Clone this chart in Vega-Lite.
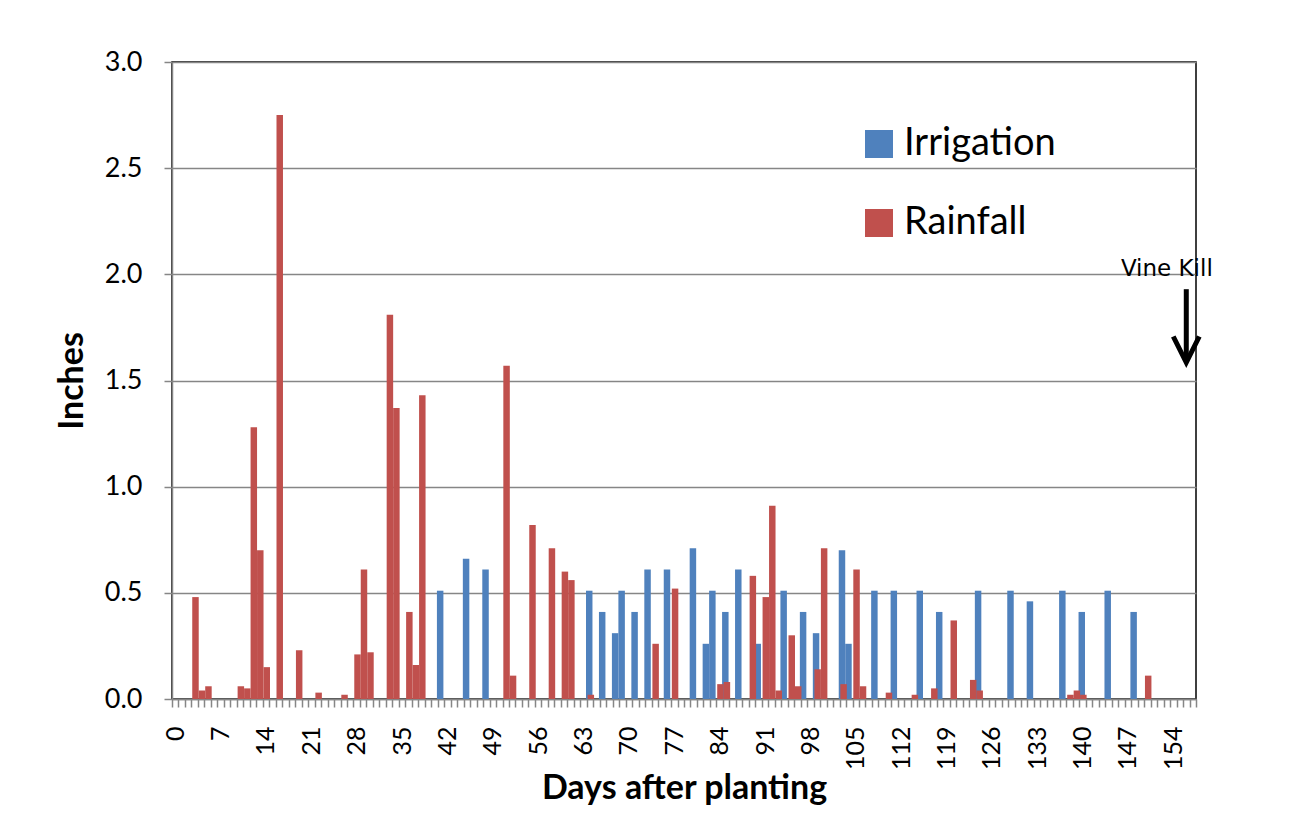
{
  "$schema": "https://vega.github.io/schema/vega-lite/v6.json",
  "width": 1024,
  "height": 637,
  "autosize": "none",
  "padding": {"left": 172, "top": 62, "right": 99, "bottom": 121},
  "background": "white",
  "config": {
    "font": "Lato",
    "view": {"stroke": "black", "strokeWidth": 1.5},
    "legend": {"padding": 0}
  },
  "datasets": {
    "water": [
      {"day": 41, "series": "Irrigation", "inches": 0.51},
      {"day": 45, "series": "Irrigation", "inches": 0.66},
      {"day": 48, "series": "Irrigation", "inches": 0.61},
      {"day": 64, "series": "Irrigation", "inches": 0.51},
      {"day": 66, "series": "Irrigation", "inches": 0.41},
      {"day": 68, "series": "Irrigation", "inches": 0.31},
      {"day": 69, "series": "Irrigation", "inches": 0.51},
      {"day": 71, "series": "Irrigation", "inches": 0.41},
      {"day": 73, "series": "Irrigation", "inches": 0.61},
      {"day": 76, "series": "Irrigation", "inches": 0.61},
      {"day": 80, "series": "Irrigation", "inches": 0.71},
      {"day": 82, "series": "Irrigation", "inches": 0.26},
      {"day": 83, "series": "Irrigation", "inches": 0.51},
      {"day": 85, "series": "Irrigation", "inches": 0.41},
      {"day": 87, "series": "Irrigation", "inches": 0.61},
      {"day": 90, "series": "Irrigation", "inches": 0.26},
      {"day": 94, "series": "Irrigation", "inches": 0.51},
      {"day": 97, "series": "Irrigation", "inches": 0.41},
      {"day": 99, "series": "Irrigation", "inches": 0.31},
      {"day": 103, "series": "Irrigation", "inches": 0.70},
      {"day": 104, "series": "Irrigation", "inches": 0.26},
      {"day": 108, "series": "Irrigation", "inches": 0.51},
      {"day": 111, "series": "Irrigation", "inches": 0.51},
      {"day": 115, "series": "Irrigation", "inches": 0.51},
      {"day": 118, "series": "Irrigation", "inches": 0.41},
      {"day": 124, "series": "Irrigation", "inches": 0.51},
      {"day": 129, "series": "Irrigation", "inches": 0.51},
      {"day": 132, "series": "Irrigation", "inches": 0.46},
      {"day": 137, "series": "Irrigation", "inches": 0.51},
      {"day": 140, "series": "Irrigation", "inches": 0.41},
      {"day": 144, "series": "Irrigation", "inches": 0.51},
      {"day": 148, "series": "Irrigation", "inches": 0.41},
      {"day": 3, "series": "Rainfall", "inches": 0.48},
      {"day": 4, "series": "Rainfall", "inches": 0.04},
      {"day": 5, "series": "Rainfall", "inches": 0.06},
      {"day": 10, "series": "Rainfall", "inches": 0.06},
      {"day": 11, "series": "Rainfall", "inches": 0.05},
      {"day": 12, "series": "Rainfall", "inches": 1.28},
      {"day": 13, "series": "Rainfall", "inches": 0.70},
      {"day": 14, "series": "Rainfall", "inches": 0.15},
      {"day": 16, "series": "Rainfall", "inches": 2.75},
      {"day": 19, "series": "Rainfall", "inches": 0.23},
      {"day": 22, "series": "Rainfall", "inches": 0.03},
      {"day": 26, "series": "Rainfall", "inches": 0.02},
      {"day": 28, "series": "Rainfall", "inches": 0.21},
      {"day": 29, "series": "Rainfall", "inches": 0.61},
      {"day": 30, "series": "Rainfall", "inches": 0.22},
      {"day": 33, "series": "Rainfall", "inches": 1.81},
      {"day": 34, "series": "Rainfall", "inches": 1.37},
      {"day": 36, "series": "Rainfall", "inches": 0.41},
      {"day": 37, "series": "Rainfall", "inches": 0.16},
      {"day": 38, "series": "Rainfall", "inches": 1.43},
      {"day": 51, "series": "Rainfall", "inches": 1.57},
      {"day": 52, "series": "Rainfall", "inches": 0.11},
      {"day": 55, "series": "Rainfall", "inches": 0.82},
      {"day": 58, "series": "Rainfall", "inches": 0.71},
      {"day": 60, "series": "Rainfall", "inches": 0.60},
      {"day": 61, "series": "Rainfall", "inches": 0.56},
      {"day": 64, "series": "Rainfall", "inches": 0.02},
      {"day": 74, "series": "Rainfall", "inches": 0.26},
      {"day": 77, "series": "Rainfall", "inches": 0.52},
      {"day": 84, "series": "Rainfall", "inches": 0.07},
      {"day": 85, "series": "Rainfall", "inches": 0.08},
      {"day": 89, "series": "Rainfall", "inches": 0.58},
      {"day": 91, "series": "Rainfall", "inches": 0.48},
      {"day": 92, "series": "Rainfall", "inches": 0.91},
      {"day": 93, "series": "Rainfall", "inches": 0.04},
      {"day": 95, "series": "Rainfall", "inches": 0.30},
      {"day": 96, "series": "Rainfall", "inches": 0.06},
      {"day": 99, "series": "Rainfall", "inches": 0.14},
      {"day": 100, "series": "Rainfall", "inches": 0.71},
      {"day": 103, "series": "Rainfall", "inches": 0.07},
      {"day": 105, "series": "Rainfall", "inches": 0.61},
      {"day": 106, "series": "Rainfall", "inches": 0.06},
      {"day": 110, "series": "Rainfall", "inches": 0.03},
      {"day": 114, "series": "Rainfall", "inches": 0.02},
      {"day": 117, "series": "Rainfall", "inches": 0.05},
      {"day": 120, "series": "Rainfall", "inches": 0.37},
      {"day": 123, "series": "Rainfall", "inches": 0.09},
      {"day": 124, "series": "Rainfall", "inches": 0.04},
      {"day": 138, "series": "Rainfall", "inches": 0.02},
      {"day": 139, "series": "Rainfall", "inches": 0.04},
      {"day": 140, "series": "Rainfall", "inches": 0.02},
      {"day": 150, "series": "Rainfall", "inches": 0.11}
    ]
  },
  "layer": [
    {
      "data": {"name": "water"},
      "transform": [{"filter": "datum.series === 'Irrigation'"}],
      "mark": {"type": "bar", "width": {"band": 1}, "xOffset": -0.8},
      "encoding": {
        "x": {
          "field": "day", "type": "ordinal", "title": "Days after planting",
          "scale": {
            "domain": [0,1,2,3,4,5,6,7,8,9,10,11,12,13,14,15,16,17,18,19,20,21,22,23,24,25,26,27,28,29,30,31,32,33,34,35,36,37,38,39,40,41,42,43,44,45,46,47,48,49,50,51,52,53,54,55,56,57,58,59,60,61,62,63,64,65,66,67,68,69,70,71,72,73,74,75,76,77,78,79,80,81,82,83,84,85,86,87,88,89,90,91,92,93,94,95,96,97,98,99,100,101,102,103,104,105,106,107,108,109,110,111,112,113,114,115,116,117,118,119,120,121,122,123,124,125,126,127,128,129,130,131,132,133,134,135,136,137,138,139,140,141,142,143,144,145,146,147,148,149,150,151,152,153,154,155,156,157],
            "paddingInner": 0, "paddingOuter": 0
          },
          "axis": {
            "titleFontSize": 34, "titleFontWeight": "bold", "titleColor": "black", "titlePadding": 2, "titleFont": "Lato",
            "labelAngle": 270, "labelAlign": "right", "labelBaseline": "middle",
            "labelFontSize": 25, "labelColor": "black", "labelPadding": 19, "labelFont": "Lato",
            "labelExpr": "datum.value % 7 === 0 ? datum.label : ''", "labelOverlap": false,
            "tickBand": "extent", "tickSize": 8, "tickColor": "#868686", "tickWidth": 1.5,
            "domainColor": "#868686", "domainWidth": 1.5, "grid": false
          }
        },
        "y": {
          "field": "inches", "type": "quantitative", "title": "Inches",
          "scale": {"domain": [0, 3], "nice": false},
          "axis": {
            "values": [0, 0.5, 1, 1.5, 2, 2.5, 3], "format": ".1f",
            "titleFontSize": 34, "titleFontWeight": "bold", "titleColor": "black", "titlePadding": 15, "titleFont": "Lato",
            "labelFontSize": 27, "labelColor": "black", "labelPadding": 22, "labelFont": "Lato",
            "tickSize": 8, "tickColor": "#868686", "tickWidth": 1.5,
            "domainColor": "#868686", "domainWidth": 1.5,
            "gridColor": "#868686", "gridWidth": 1.5
          }
        },
        "color": {
          "field": "series", "type": "nominal",
          "scale": {"domain": ["Irrigation", "Rainfall"], "range": ["#4F81BD", "#C0504D"]},
          "legend": {
            "orient": "none", "legendX": 688, "legendY": 63, "title": null,
            "symbolType": "square", "symbolSize": 784, "symbolStrokeWidth": 0, "symbolOpacity": 1,
            "labelFontSize": 38, "labelFont": "Lato", "labelColor": "black", "labelOffset": 6,
            "rowPadding": 41, "labelLimit": 400
          }
        }
      }
    },
    {
      "data": {"name": "water"},
      "transform": [{"filter": "datum.series === 'Rainfall'"}],
      "mark": {"type": "bar", "width": {"band": 1}, "xOffset": 0.8},
      "encoding": {
        "x": {"field": "day", "type": "ordinal", "title": "Days after planting"},
        "y": {"field": "inches", "type": "quantitative", "title": "Inches"},
        "color": {"field": "series", "type": "nominal"}
      }
    },
    {
      "data": {"values": [{"day": 153, "inches": 2.0, "label": "Vine Kill"}]},
      "mark": {"type": "text", "font": "DejaVu Sans", "fontSize": 23, "baseline": "alphabetic", "align": "center", "dy": 2, "color": "black"},
      "encoding": {
        "x": {"field": "day", "type": "ordinal", "title": "Days after planting"},
        "y": {"field": "inches", "type": "quantitative", "title": "Inches"},
        "text": {"field": "label"}
      }
    },
    {
      "data": {"values": [{"day": 156, "inches": 1.93, "inches2": 1.6}]},
      "mark": {"type": "rule", "strokeWidth": 5, "color": "black"},
      "encoding": {
        "x": {"field": "day", "type": "ordinal", "title": "Days after planting"},
        "y": {"field": "inches", "type": "quantitative", "title": "Inches"},
        "y2": {"field": "inches2"}
      }
    },
    {
      "data": {"values": [{"day": 156, "inches": 1.646}]},
      "mark": {"type": "point", "shape": "M-1,-1L0,1L1,-1", "filled": false, "size": 676, "stroke": "black", "strokeWidth": 5, "strokeJoin": "miter", "opacity": 1},
      "encoding": {
        "x": {"field": "day", "type": "ordinal", "title": "Days after planting"},
        "y": {"field": "inches", "type": "quantitative", "title": "Inches"}
      }
    }
  ]
}
